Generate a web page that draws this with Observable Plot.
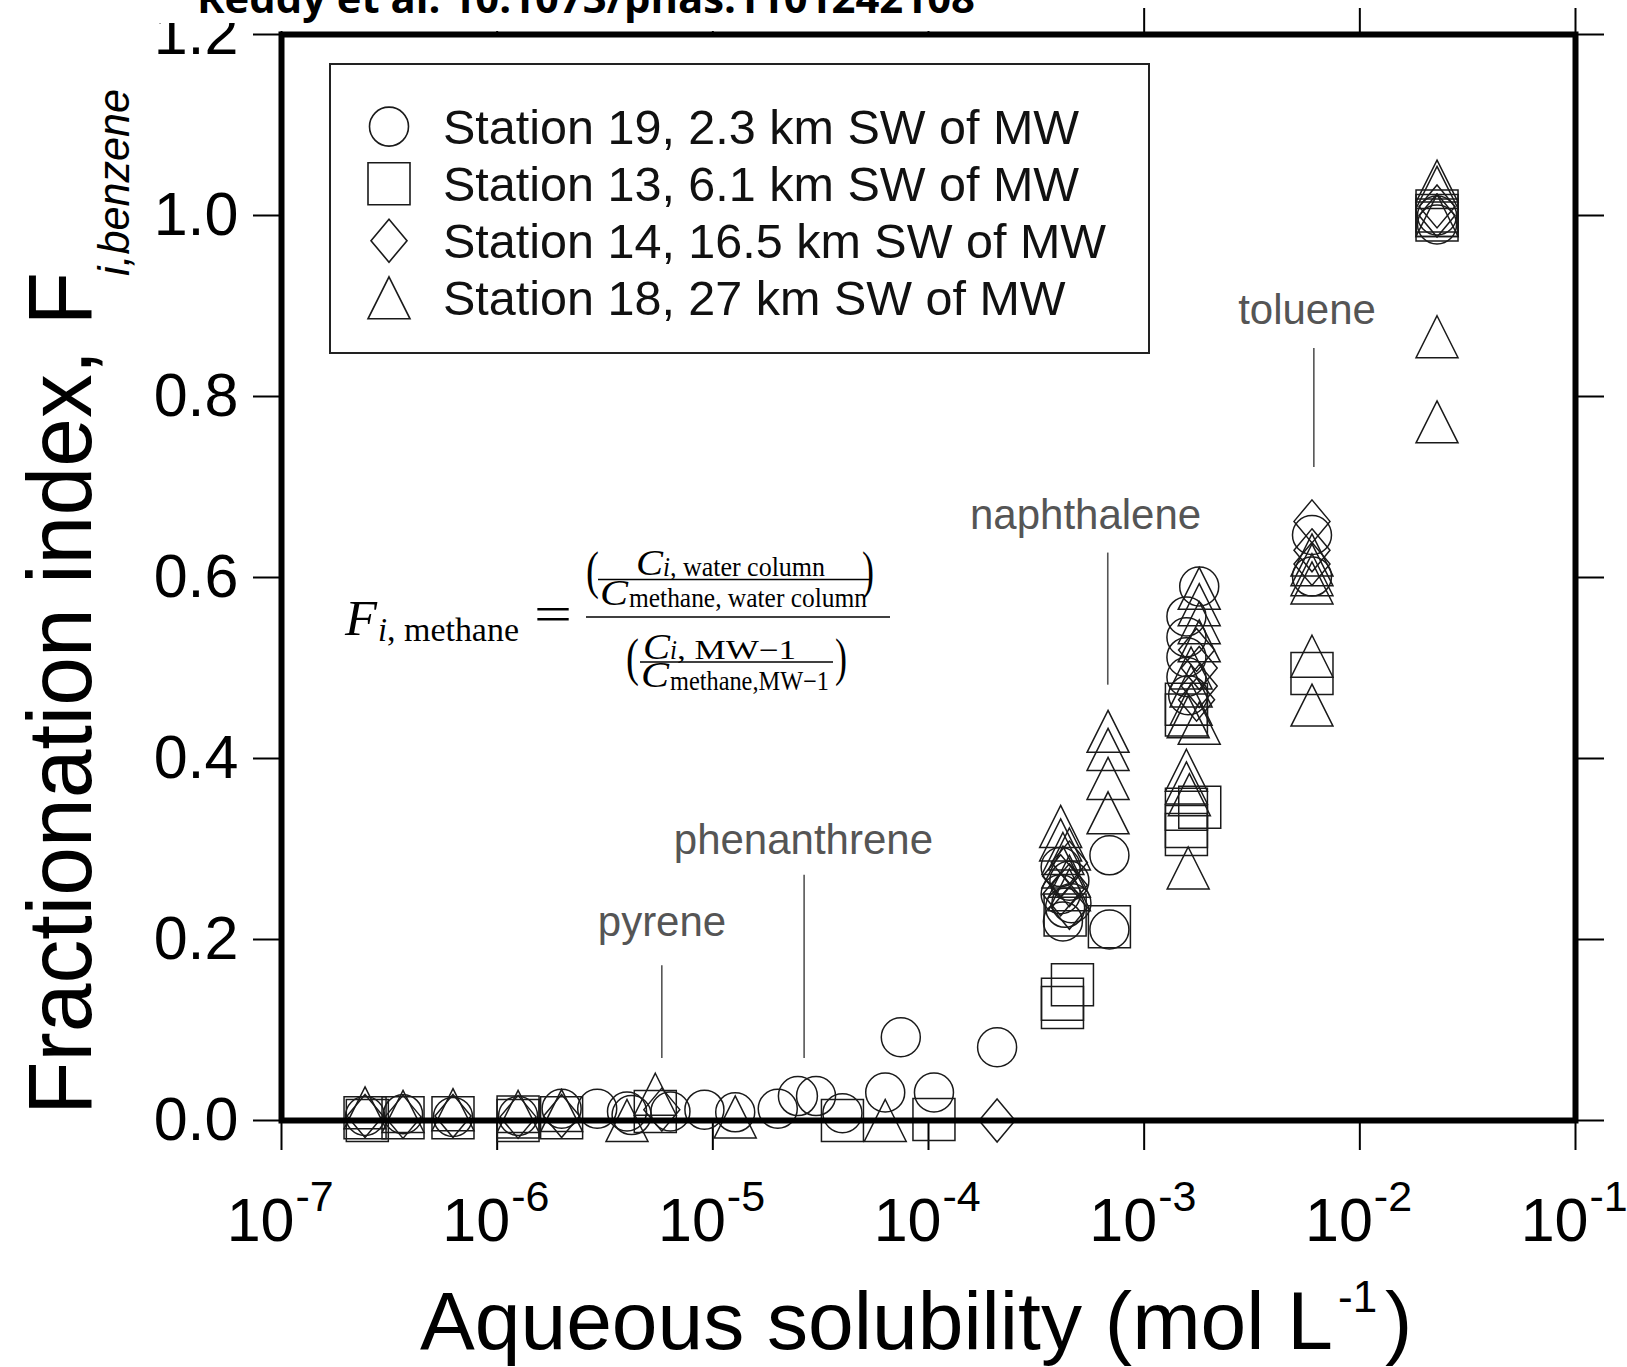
<!DOCTYPE html>
<html><head><meta charset="utf-8">
<script src="https://cdn.jsdelivr.net/npm/d3@7"></script>
<script src="https://cdn.jsdelivr.net/npm/@observablehq/plot@0.6"></script>
<style>
body{margin:0;background:#fff;}
#wrap{position:relative;width:1627px;height:1367px;overflow:hidden;background:#fff;}
#wrap > svg.ttl{position:absolute;left:0;top:0;}
</style></head><body>
<div id="wrap"></div>
<script>
// ---------- data ----------
const stationNames = [
  "Station 19, 2.3 km SW of MW",
  "Station 13, 6.1 km SW of MW",
  "Station 14, 16.5 km SW of MW",
  "Station 18, 27 km SW of MW"
];
// [aqueous solubility (mol/L), fractionation index]
const st19 = [
  [2.44e-7,0.005],[3.66e-7,0.007],[6.24e-7,0.004],[1.25e-6,0.005],[1.99e-6,0.013],[2.91e-6,0.013],
  [4.0e-6,0.010],[4.2e-6,0.006],[6.36e-6,0.010],[9.14e-6,0.012],[1.27e-5,0.009],[2.0e-5,0.013],
  [2.48e-5,0.027],[3.01e-5,0.027],[3.99e-5,0.008],[6.3e-5,0.031],[7.44e-5,0.092],[1.06e-4,0.031],
  [2.08e-4,0.081],
  [4.1e-4,0.28],[4.1e-4,0.25],[4.3e-4,0.235],[4.2e-4,0.22],[4.5e-4,0.265],[4.6e-4,0.24],
  [6.9e-4,0.293],[6.9e-4,0.211],
  [1.57e-3,0.557],[1.57e-3,0.534],[1.57e-3,0.512],[1.57e-3,0.49],[1.6e-3,0.47],[1.8e-3,0.59],
  [6.0e-3,0.647],[6.0e-3,0.601],
  [2.28e-2,1.0],[2.28e-2,0.99]
];
const st13 = [
  [2.44e-7,0.003],[2.5e-7,0.0],[3.66e-7,0.003],[6.24e-7,0.003],[1.25e-6,0.0],[1.25e-6,0.004],
  [1.99e-6,0.003],[5.41e-6,0.010],[3.99e-5,0.0],[1.06e-4,0.001],
  [4.18e-4,0.134],[4.18e-4,0.125],[4.65e-4,0.150],[4.3e-4,0.227],
  [6.9e-4,0.214],
  [1.57e-3,0.448],[1.57e-3,0.46],[1.57e-3,0.344],[1.57e-3,0.325],[1.57e-3,0.316],[1.81e-3,0.346],
  [6.0e-3,0.494],
  [2.28e-2,1.0],[2.28e-2,0.995],[2.28e-2,1.005]
];
const st14 = [
  [2.44e-7,0.005],[3.66e-7,0.004],[6.24e-7,0.005],[1.25e-6,0.004],[1.99e-6,0.005],[5.8e-6,0.012],
  [2.08e-4,0.0],
  [4.1e-4,0.27],[4.1e-4,0.25],[4.5e-4,0.285],[4.5e-4,0.26],[4.5e-4,0.235],
  [1.75e-3,0.52],[1.8e-3,0.50],[1.8e-3,0.48],[1.75e-3,0.465],
  [6.0e-3,0.662],[6.0e-3,0.63],[6.0e-3,0.615],
  [2.28e-2,1.0],[2.28e-2,1.01]
];
const st18 = [
  [2.44e-7,0.014],[3.66e-7,0.010],[6.24e-7,0.012],[1.25e-6,0.010],[1.99e-6,0.011],[4.0e-6,0.0],
  [5.41e-6,0.029],[1.27e-5,0.004],[6.3e-5,0.0],
  [4.1e-4,0.325],[4.1e-4,0.31],[4.2e-4,0.295],[4.2e-4,0.28],[4.5e-4,0.30],[4.5e-4,0.27],[4.5e-4,0.255],
  [6.8e-4,0.43],[6.8e-4,0.41],[6.8e-4,0.378],[6.8e-4,0.34],
  [1.8e-3,0.588],[1.8e-3,0.57],[1.8e-3,0.55],[1.8e-3,0.53],[1.65e-3,0.50],[1.65e-3,0.48],[1.65e-3,0.46],
  [1.6e-3,0.446],[1.8e-3,0.439],
  [1.57e-3,0.387],[1.57e-3,0.373],[1.62e-3,0.36],[1.6e-3,0.279],
  [6.0e-3,0.625],[6.0e-3,0.614],[6.0e-3,0.603],[6.0e-3,0.594],[6.0e-3,0.513],[6.0e-3,0.459],
  [2.28e-2,1.038],[2.28e-2,1.031],[2.28e-2,1.0],[2.28e-2,0.866],[2.28e-2,0.772]
];
const xTickValues = [1e-7,1e-6,1e-5,1e-4,1e-3,1e-2,1e-1];
const xTickExponents = ["-7","-6","-5","-4","-3","-2","-1"];
const yTickValues = [0,0.2,0.4,0.6,0.8,1.0,1.2];
const yTickLabels = ["0.0","0.2","0.4","0.6","0.8","1.0","1.2"];
const annoNames = ["pyrene","phenanthrene","naphthalene","toluene"];
const annoTextX = [5.81e-6,2.63e-5,5.35e-4,5.69e-3];
const annoTextY = [0.204,0.295,0.654,0.880];
const annoLineX = [5.8e-6,2.65e-5,6.78e-4,6.12e-3];
const annoLineTop = [0.171,0.271,0.627,0.853];
const annoLineBottom = [0.0685,0.0685,0.481,0.7215];
const titleText = "Reddy et al. 10.1073/pnas.1101242108";

// ---------- symbols ----------
const k = size => Math.sqrt(size / Math.PI) / 20;
const symCircle = {draw(c, size){const r = 19.5*k(size); c.moveTo(r,0); c.arc(0,0,r,0,2*Math.PI); c.closePath();}};
const symSquare = {draw(c, size){const h = 21*k(size); c.moveTo(-h,-h); c.lineTo(h,-h); c.lineTo(h,h); c.lineTo(-h,h); c.closePath();}};
const symDiamond = {draw(c, size){const s = k(size), w = 18*s, h = 21.5*s; c.moveTo(0,-h); c.lineTo(w,0); c.lineTo(0,h); c.lineTo(-w,0); c.closePath();}};
const symTriangle = {draw(c, size){const s = k(size), w = 21*s, h = 21*s; c.moveTo(0,-h); c.lineTo(w,h); c.lineTo(-w,h); c.closePath();}};
const seriesList = [
  {data: st19, symbol: symCircle},
  {data: st13, symbol: symSquare},
  {data: st14, symbol: symDiamond},
  {data: st18, symbol: symTriangle}
];

const FONT = "'Liberation Sans', Arial, Helvetica, sans-serif";
const SERIF = "'Liberation Serif', 'Times New Roman', serif";
const annoIdx = annoNames.map((_, i) => i);

const plot = Plot.plot({
  width: 1627, height: 1367,
  marginLeft: 281, marginRight: 52, marginTop: 34, marginBottom: 247,
  style: {fontFamily: FONT, background: "white", color: "black", overflow: "visible"},
  x: {type: "log", domain: [1e-7, 1e-1]},
  y: {domain: [0, 1.2]},
  marks: [
    Plot.axisY({anchor: "left", ticks: yTickValues, tickSize: 28, tickPadding: 15, strokeWidth: 2,
      tickFormat: d => yTickLabels[yTickValues.indexOf(d)], fontSize: 61, label: null}),
    Plot.axisY({anchor: "right", ticks: yTickValues, tickSize: 28, strokeWidth: 2, tickFormat: () => "", label: null}),
    Plot.axisX({anchor: "bottom", ticks: xTickValues, tickSize: 30, strokeWidth: 2, tickFormat: () => "", label: null}),
    Plot.axisX({anchor: "top", ticks: xTickValues, tickSize: 27, strokeWidth: 2, tickFormat: () => "", label: null}),
    Plot.text(xTickValues, {x: d => d, frameAnchor: "bottom", text: () => "10", textAnchor: "end",
      lineAnchor: "bottom", dx: 13, dy: 120, fontSize: 61, fill: "black"}),
    Plot.text(xTickValues, {x: d => d, frameAnchor: "bottom", text: (d, i) => xTickExponents[i], textAnchor: "start",
      lineAnchor: "bottom", dx: 14, dy: 90, fontSize: 43, fill: "black"}),
    Plot.ruleX(annoIdx, {x: i => annoLineX[i], y1: i => annoLineBottom[i], y2: i => annoLineTop[i], stroke: "#555", strokeWidth: 1.6}),
    Plot.text(annoIdx, {x: i => annoTextX[i], y: i => annoTextY[i], text: i => annoNames[i], fontSize: 42,
      fill: "#555", textAnchor: "middle", lineAnchor: "bottom"}),
    ...seriesList.map(s => Plot.dot(s.data, {x: d => d[0], y: d => d[1], symbol: s.symbol, r: 20,
      stroke: "#1a1a1a", strokeWidth: 1.5, fill: "none"})),
    Plot.frame({stroke: "black", strokeWidth: 6})
  ]
});

const wrap = document.getElementById("wrap");
wrap.appendChild(plot);
const svg = d3.select(plot);

// ---------- axis titles ----------
const at = svg.append("g").attr("font-family", FONT).attr("fill", "black").attr("text-anchor", "start");
at.append("text").attr("transform", "translate(91,1115) rotate(-90)").attr("font-size", 90)
  .attr("textLength", 843).attr("lengthAdjust", "spacingAndGlyphs").text("Fractionation index, F");
at.append("text").attr("transform", "translate(129,276) rotate(-90)").attr("font-size", 44).attr("font-style", "italic")
  .attr("textLength", 187).attr("lengthAdjust", "spacingAndGlyphs").text("i,benzene");
at.append("text").attr("x", 420).attr("y", 1349).attr("font-size", 82)
  .attr("textLength", 913).attr("lengthAdjust", "spacingAndGlyphs").text("Aqueous solubility (mol L");
at.append("text").attr("x", 1338).attr("y", 1312).attr("font-size", 44).text("-1");
at.append("text").attr("x", 1385).attr("y", 1349).attr("font-size", 82).text(")");

// ---------- legend ----------
const lg = svg.append("g").attr("font-family", FONT).attr("text-anchor", "start");
lg.append("rect").attr("x", 330).attr("y", 64).attr("width", 819).attr("height", 289)
  .attr("fill", "white").attr("stroke", "#222").attr("stroke-width", 2);
const rowY = [126.6, 183.7, 240.7, 297.8];
seriesList.forEach((s, i) => {
  const p = d3.path(); s.symbol.draw(p, 400 * Math.PI);
  lg.append("path").attr("d", p.toString()).attr("transform", `translate(389,${rowY[i]})`)
    .attr("fill", "none").attr("stroke", "#1a1a1a").attr("stroke-width", 1.6);
  lg.append("text").attr("x", 443).attr("y", rowY[i] + 17).attr("font-size", 48.5).attr("fill", "#111").text(stationNames[i]);
});

// ---------- formula ----------
const fm = svg.append("g").attr("font-family", SERIF).attr("fill", "black").attr("text-anchor", "start");
function ft(x, y, size, txt, italic, len) {
  const t = fm.append("text").attr("x", x).attr("y", y).attr("font-size", size).text(txt);
  if (italic) t.attr("font-style", "italic");
  if (len) t.attr("textLength", len).attr("lengthAdjust", "spacingAndGlyphs");
  return t;
}
function fl(x1, x2, y) { fm.append("line").attr("x1", x1).attr("x2", x2).attr("y1", y).attr("y2", y).attr("stroke", "black").attr("stroke-width", 1.6); }
ft(345, 635, 50, "F", true, 32);
ft(378, 641, 34, "i", true, 9);
ft(387, 641, 34, ", methane", false, 132);
ft(534, 631, 50, "=", false, 38);
fl(586, 890, 617);
ft(586, 588, 52, "(", false, 13);
ft(636, 575, 36, "C", true, 27);
ft(663, 576, 27, "i", true, 7);
ft(670, 576, 27, ", water column", false, 155);
fl(598, 871, 579.5);
ft(600, 605, 36, "C", true, 28);
ft(629, 607, 27, "methane, water column", false, 238);
ft(862, 588, 52, ")", false, 12);
ft(626, 675, 52, "(", false, 13);
ft(643, 659, 36, "C", true, 27);
ft(670, 659, 27, "i", true, 7);
ft(677, 659, 27, ", MW\u22121", false, 119);
fl(640, 833, 662);
ft(641, 687, 36, "C", true, 28);
ft(670, 690, 27, "methane,MW\u22121", false, 159);
ft(835, 675, 52, ")", false, 12);

// ---------- title strip ----------
const ts = d3.create("svg").attr("class", "ttl").attr("width", 1627).attr("height", 32);
ts.append("path").attr("d", "M150,0H986V31H245V23H150Z").attr("fill", "white");
ts.append("text").attr("x", 197).attr("y", 13).attr("font-family", "'Open Sans', sans-serif").attr("font-weight", "bold")
  .attr("font-size", 42).attr("textLength", 778).attr("lengthAdjust", "spacingAndGlyphs").attr("fill", "black").text(titleText);
wrap.appendChild(ts.node());
</script></body></html>
